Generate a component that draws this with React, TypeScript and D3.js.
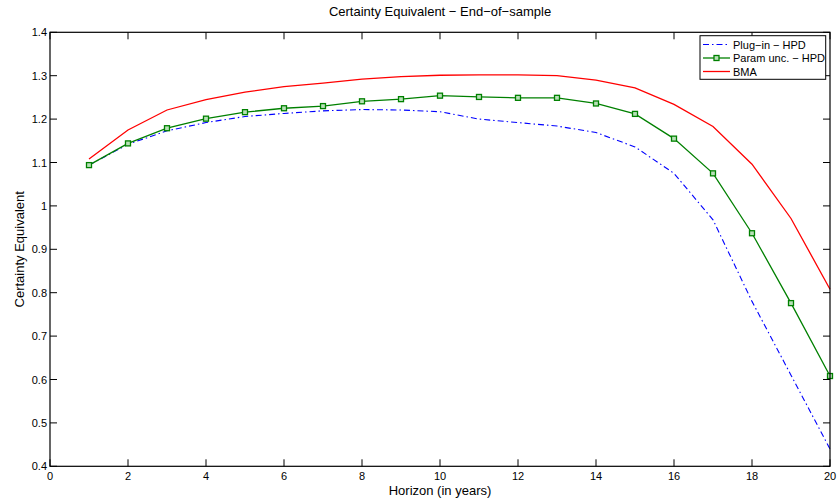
import React from "react";
import * as d3 from "d3";

const horizons = [1, 2, 3, 4, 5, 6, 7, 8, 9, 10, 11, 12, 13, 14, 15, 16, 17, 18, 19, 20];
const plugIn = [1.094, 1.142, 1.173, 1.192, 1.206, 1.213, 1.219, 1.222, 1.221, 1.217, 1.200, 1.192, 1.184, 1.169, 1.136, 1.075, 0.968, 0.78, 0.61, 0.44];
const paramUnc = [1.094, 1.144, 1.179, 1.201, 1.216, 1.225, 1.230, 1.241, 1.246, 1.254, 1.251, 1.249, 1.249, 1.236, 1.212, 1.155, 1.075, 0.937, 0.776, 0.608];
const bma = [1.108, 1.175, 1.221, 1.245, 1.262, 1.275, 1.283, 1.292, 1.298, 1.301, 1.302, 1.302, 1.300, 1.290, 1.272, 1.234, 1.183, 1.096, 0.971, 0.808];
const xTicks = [0, 2, 4, 6, 8, 10, 12, 14, 16, 18, 20];
const yTicks = [0.4, 0.5, 0.6, 0.7, 0.8, 0.9, 1, 1.1, 1.2, 1.3, 1.4];
const legendLabels = ["Plug\u2212in \u2212 HPD", "Param unc. \u2212 HPD", "BMA"];
const titleText = "Certainty Equivalent \u2212 End\u2212of\u2212sample";
const xLabel = "Horizon (in years)";
const yLabel = "Certainty Equivalent";

export default function App() {
  const W = 837, H = 499;
  const L = 50, R = 830, T = 32.3, B = 466.3;
  const x = d3.scaleLinear().domain([0, 20]).range([L, R]);
  const y = d3.scaleLinear().domain([0.4, 1.4]).range([B, T]);
  const line = d3.line<number>().x((_, i) => x(horizons[i])).y((d) => y(d));
  const font = "'Liberation Sans', Arial, Helvetica, sans-serif";
  const tk = 7;
  const ms = 5;
  return (
    <svg width={W} height={H} style={{ position: "absolute", left: 0, top: 0, background: "#fff" }} fontFamily={font}>
      <rect x={0} y={0} width={W} height={H} fill="#fff" />
      <path d={line(plugIn) || ""} fill="none" stroke="#0000ff" strokeWidth={1.1} strokeDasharray="6,3,1.5,3" />
      <path d={line(paramUnc) || ""} fill="none" stroke="#008000" strokeWidth={1.3} />
      {paramUnc.map((v, i) => (
        <rect key={i} x={x(horizons[i]) - ms / 2} y={y(v) - ms / 2} width={ms} height={ms} fill="#b8e0b8" stroke="#008000" strokeWidth={1.3} />
      ))}
      <path d={line(bma) || ""} fill="none" stroke="#ff0000" strokeWidth={1.3} />
      <rect x={L} y={T} width={R - L} height={B - T} fill="none" stroke="#000" strokeWidth={1.2} />
      {xTicks.map((t) => (
        <g key={"x" + t}>
          <line x1={x(t)} x2={x(t)} y1={B} y2={B - tk} stroke="#000" />
          <line x1={x(t)} x2={x(t)} y1={T} y2={T + tk} stroke="#000" />
          <text x={x(t)} y={B + 14} fontSize={11} textAnchor="middle" fill="#000">{t}</text>
        </g>
      ))}
      {yTicks.map((t) => (
        <g key={"y" + t}>
          <line x1={L} x2={L + tk} y1={y(t)} y2={y(t)} stroke="#000" />
          <line x1={R} x2={R - tk} y1={y(t)} y2={y(t)} stroke="#000" />
          <text x={L - 3} y={y(t) + 4} fontSize={11} textAnchor="end" fill="#000">{String(t)}</text>
        </g>
      ))}
      <text x={440} y={16} fontSize={13} textAnchor="middle" fill="#000">{titleText}</text>
      <text x={440} y={495} fontSize={13} textAnchor="middle" fill="#000">{xLabel}</text>
      <text transform={`translate(24,${(T + B) / 2}) rotate(-90)`} fontSize={13} textAnchor="middle" fill="#000">{yLabel}</text>
      <g>
        <rect x={700} y={35.7} width={125.7} height={43.6} fill="#fff" stroke="#000" strokeWidth={1} />
        {legendLabels.map((lab, i) => {
          const ly = 44.5 + i * 13.5;
          return (
            <g key={lab}>
              {i === 0 && <line x1={703} x2={730} y1={ly} y2={ly} stroke="#0000ff" strokeWidth={1.1} strokeDasharray="6,3,1.5,3" />}
              {i === 1 && (
                <g>
                  <line x1={703} x2={730} y1={ly} y2={ly} stroke="#008000" strokeWidth={1.3} />
                  <rect x={716.5 - ms / 2} y={ly - ms / 2} width={ms} height={ms} fill="#b8e0b8" stroke="#008000" strokeWidth={1.3} />
                </g>
              )}
              {i === 2 && <line x1={703} x2={730} y1={ly} y2={ly} stroke="#ff0000" strokeWidth={1.3} />}
              <text x={733} y={ly + 4} fontSize={11} fill="#000">{lab}</text>
            </g>
          );
        })}
      </g>
    </svg>
  );
}
